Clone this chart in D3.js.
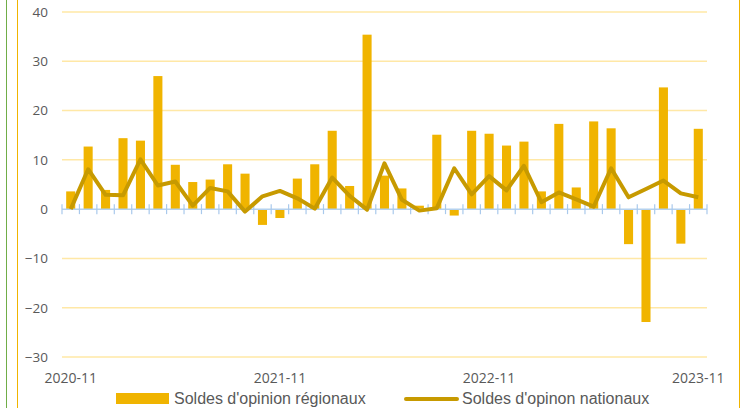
<html>
<head>
    <meta charset="utf-8">
    <style>
        body { margin: 0; background: #fff; }
        text { font-family: "Open Sans", sans-serif; fill: #595959; }
        .legend text { font-family: "Liberation Sans", Arial, sans-serif; }
    </style>
    <script src="https://cdn.jsdelivr.net/npm/d3@7"></script>
</head>

<body>
    <svg id="container" width="740" height="408">
        <g id="body"></g>
    </svg>
</body>
<script>
    // mois (catégories)
    let months = [
        "2020-11","2020-12","2021-01","2021-02","2021-03","2021-04","2021-05","2021-06","2021-07","2021-08","2021-09","2021-10",
        "2021-11","2021-12","2022-01","2022-02","2022-03","2022-04","2022-05","2022-06","2022-07","2022-08","2022-09","2022-10",
        "2022-11","2022-12","2023-01","2023-02","2023-03","2023-04","2023-05","2023-06","2023-07","2023-08","2023-09","2023-10",
        "2023-11"
    ]
    let regional = [
        3.6, 12.7, 3.9, 14.4, 13.9, 27.0, 9.0, 5.5, 6.0, 9.1, 7.2, -3.2,
        -1.8, 6.2, 9.1, 15.9, 4.7, 35.4, 6.8, 4.2, 0.7, 15.1, -1.3, 15.9,
        15.3, 12.9, 13.7, 3.6, 17.3, 4.4, 17.8, 16.4, -7.1, -22.9, 24.7, -7.0,
        16.3
    ]
    let national = [
        0.0, 8.1, 2.9, 2.8, 10.1, 4.8, 5.6, 0.7, 4.3, 3.6, -0.5, 2.6,
        3.7, 2.2, 0.1, 6.4, 2.7, -0.1, 9.3, 1.9, -0.3, 0.2, 8.3, 3.0,
        6.7, 3.8, 8.8, 1.4, 3.4, 2.0, 0.5, 8.3, 2.4, 4.1, 5.8, 3.2,
        2.4
    ]
    let xTickLabels = ["2020-11", "2021-11", "2022-11", "2023-11"]
    let yTicks = [-30, -20, -10, 0, 10, 20, 30, 40]
    let seriesNames = ["Soldes d'opinion régionaux", "Soldes d'opinon nationaux"]

    let svg = d3.select("#container")
    let body = d3.select("#body")

    let barColor = "#F0B400"
    let lineColor = "#C79A00"

    // cadre
    svg.append("line").attr("x1", 6.5).attr("x2", 6.5).attr("y1", 0).attr("y2", 408)
        .attr("stroke", "#70AD47").attr("stroke-width", 1)
    svg.append("line").attr("x1", 17.5).attr("x2", 17.5).attr("y1", 0).attr("y2", 408)
        .attr("stroke", barColor).attr("stroke-width", 1)
    svg.append("line").attr("x1", 739.5).attr("x2", 739.5).attr("y1", 0).attr("y2", 408)
        .attr("stroke", barColor).attr("stroke-width", 1)

    let x = d3.scaleBand()
        .domain(months)
        .range([62, 707])
        .paddingInner(0.48)
        .paddingOuter(0.24)

    let y = d3.scaleLinear()
        .domain([-30, 40])
        .range([357, 12])

    // grille
    body.selectAll(".grid")
        .data(yTicks.filter(d => d != 0))
        .enter().append("line")
        .attr("x1", 62).attr("x2", 707)
        .attr("y1", d => y(d)).attr("y2", d => y(d))
        .attr("stroke", "#FFE8A6")
        .attr("stroke-width", 1.5)

    // axe y
    let yAxis = d3.axisLeft(y).tickValues(yTicks).tickSize(0).tickPadding(14)
    body.append("g")
        .attr("transform", "translate(62,0)")
        .call(yAxis)
        .call(g => g.select(".domain").remove())
        .call(g => g.selectAll("text")
            .style("font-size", "13.5px")
            .attr("fill", "#595959")
            .style("font-family", "'Open Sans', sans-serif"))

    // barres
    body.selectAll(".bar")
        .data(regional)
        .enter().append("rect")
        .attr("x", (d, i) => x(months[i]))
        .attr("width", x.bandwidth())
        .attr("y", d => y(Math.max(0, d)))
        .attr("height", d => Math.abs(y(d) - y(0)))
        .attr("fill", barColor)

    // axe x (ligne zéro)
    let step = x.step()
    let boundaries = months.map(m => x(m) - (step - x.bandwidth()) / 2)
    boundaries.push(707)
    body.append("line")
        .attr("x1", 62).attr("x2", 707)
        .attr("y1", y(0)).attr("y2", y(0))
        .attr("stroke", "#B4D1EE").attr("stroke-width", 1.5)
    body.selectAll(".tick-x")
        .data(boundaries)
        .enter().append("line")
        .attr("x1", d => d).attr("x2", d => d)
        .attr("y1", y(0) - 5).attr("y2", y(0) + 5)
        .attr("stroke", "#A9C9EC").attr("stroke-width", 1.2)

    // ligne nationale
    let line = d3.line()
        .x((d, i) => x(months[i]) + x.bandwidth() / 2)
        .y(d => y(d))
    body.append("path")
        .datum(national)
        .attr("d", line)
        .attr("fill", "none")
        .attr("stroke", lineColor)
        .attr("stroke-width", 4)
        .attr("stroke-linejoin", "round")

    // étiquettes x
    body.selectAll(".xlab")
        .data(xTickLabels)
        .enter().append("text")
        .attr("x", d => x(d) + x.bandwidth() / 2)
        .attr("y", 383)
        .attr("text-anchor", "middle")
        .style("font-size", "14px")
        .text(d => d)

    // légende
    let legend = body.append("g").attr("class", "legend")
    legend.append("rect")
        .attr("x", 116).attr("y", 393).attr("width", 53).attr("height", 11)
        .attr("fill", barColor)
    legend.append("text")
        .attr("x", 174).attr("y", 404)
        .style("font-size", "16px")
        .text(seriesNames[0])
    legend.append("line")
        .attr("x1", 406).attr("x2", 457).attr("y1", 399).attr("y2", 399)
        .attr("stroke", lineColor).attr("stroke-width", 4).attr("stroke-linecap", "round")
    legend.append("text")
        .attr("x", 462).attr("y", 404)
        .style("font-size", "16px")
        .text(seriesNames[1])
</script>
</html>
